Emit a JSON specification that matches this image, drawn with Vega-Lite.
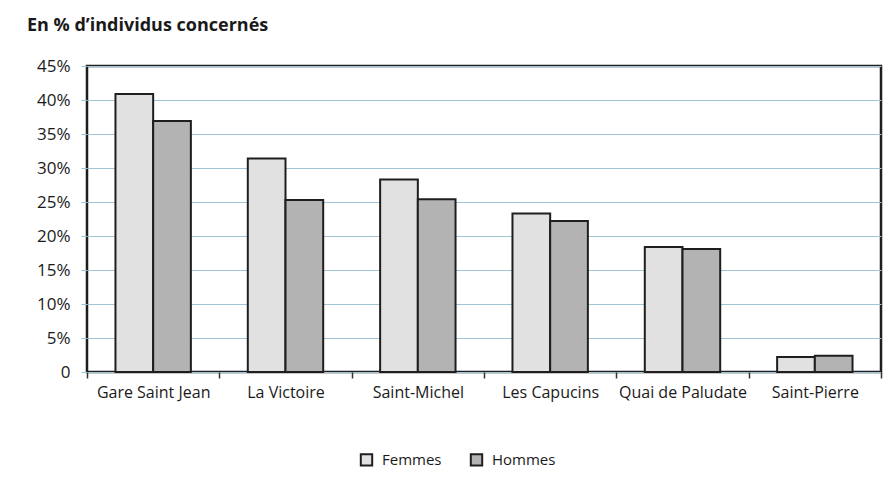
{
  "$schema": "https://vega.github.io/schema/vega-lite/v6.json",
  "width": 794,
  "height": 306,
  "autosize": "none",
  "padding": {"left": 87, "top": 66, "right": 15, "bottom": 113},
  "background": "white",
  "title": {
    "text": "En % d’individus concernés",
    "anchor": "start",
    "frame": "group",
    "dx": -60,
    "offset": 8,
    "baseline": "alphabetic",
    "font": "Open Sans",
    "fontSize": 18,
    "fontWeight": "bold",
    "color": "#1a1a1a"
  },
  "data": {
    "values": [
      {"lieu": "Gare Saint Jean", "sexe": "Femmes", "pct": 40.9},
      {"lieu": "Gare Saint Jean", "sexe": "Hommes", "pct": 36.9},
      {"lieu": "La Victoire", "sexe": "Femmes", "pct": 31.4},
      {"lieu": "La Victoire", "sexe": "Hommes", "pct": 25.3},
      {"lieu": "Saint-Michel", "sexe": "Femmes", "pct": 28.3},
      {"lieu": "Saint-Michel", "sexe": "Hommes", "pct": 25.4},
      {"lieu": "Les Capucins", "sexe": "Femmes", "pct": 23.3},
      {"lieu": "Les Capucins", "sexe": "Hommes", "pct": 22.2},
      {"lieu": "Quai de Paludate", "sexe": "Femmes", "pct": 18.4},
      {"lieu": "Quai de Paludate", "sexe": "Hommes", "pct": 18.1},
      {"lieu": "Saint-Pierre", "sexe": "Femmes", "pct": 2.2},
      {"lieu": "Saint-Pierre", "sexe": "Hommes", "pct": 2.4}
    ]
  },
  "mark": {"type": "bar", "stroke": "#1e1e1e", "strokeWidth": 2},
  "encoding": {
    "x": {
      "field": "lieu",
      "type": "nominal",
      "sort": null,
      "scale": {"paddingInner": 0, "paddingOuter": 0},
      "axis": {
        "title": null,
        "labelAngle": 0,
        "tickBand": "extent",
        "tickColor": "#333",
        "tickSize": 6,
        "tickWidth": 1.5,
        "domain": false,
        "labelPadding": 6,
        "labelFont": "Open Sans",
        "labelFontSize": 16,
        "labelColor": "#1a1a1a",
        "grid": false
      }
    },
    "xOffset": {
      "field": "sexe",
      "type": "nominal",
      "scale": {"paddingInner": 0, "paddingOuter": 0.755}
    },
    "y": {
      "field": "pct",
      "type": "quantitative",
      "scale": {"domain": [0, 45], "nice": false},
      "axis": {
        "title": null,
        "values": [0, 5, 10, 15, 20, 25, 30, 35, 40, 45],
        "labelExpr": "datum.value == 0 ? '0' : datum.value + '%'",
        "grid": true,
        "gridColor": "#9fc4d6",
        "gridWidth": 1.2,
        "gridOpacity": 1,
        "tickColor": "#9fc4d6",
        "tickSize": 6,
        "domain": false,
        "labelPadding": 11,
        "labelFont": "Open Sans",
        "labelFontSize": 17,
        "labelColor": "#1a1a1a"
      }
    },
    "color": {
      "field": "sexe",
      "type": "nominal",
      "scale": {"domain": ["Femmes", "Hommes"], "range": ["#e0e1e0", "#b3b3b3"]},
      "legend": {
        "title": null,
        "orient": "none",
        "direction": "horizontal",
        "legendX": 272,
        "legendY": 386,
        "symbolType": "square",
        "symbolSize": 130,
        "symbolStrokeColor": "#1e1e1e",
        "symbolStrokeWidth": 2,
        "symbolOpacity": 1,
        "labelFont": "Open Sans",
        "labelFontSize": 15,
        "labelColor": "#1a1a1a",
        "columnPadding": 24,
        "labelOffset": 8
      }
    }
  },
  "config": {
    "view": {"stroke": "#1e1e1e", "strokeWidth": 2.5}
  }
}
